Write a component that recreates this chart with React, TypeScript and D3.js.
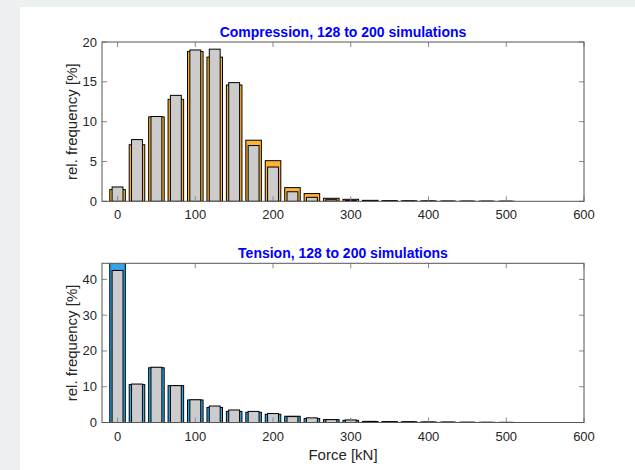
import React from "react";
import * as d3 from "d3";

// bin centers (kN)
const binCenters = [0, 25, 50, 75, 100, 125, 150, 175, 200, 225, 250, 275, 300, 325, 350, 375, 400, 425, 450, 475, 500];

// Compression: 128 sims (orange) and 200 sims (grey)
const comp128 = [1.47, 7.1, 10.6, 12.8, 18.8, 18.1, 14.6, 7.67, 5.1, 1.72, 0.97, 0.38, 0.25, 0.12, 0.08, 0.06, 0.05, 0.03, 0.02, 0.02, 0.01];
const comp200 = [1.8, 7.75, 10.65, 13.3, 19.0, 19.1, 14.9, 7.0, 4.3, 1.2, 0.5, 0.2, 0.1, 0.08, 0.05, 0.04, 0.03, 0.02, 0.02, 0.01, 0.01];

// Tension: 128 sims (blue) and 200 sims (grey)
const tens128 = [48, 10.6, 15.3, 10.3, 6.3, 4.2, 3.1, 2.85, 2.3, 1.75, 1.1, 0.8, 0.6, 0.3, 0.25, 0.2, 0.15, 0.1, 0.08, 0.05, 0.03];
const tens200 = [42.5, 10.75, 15.45, 10.3, 6.35, 4.6, 3.5, 3.1, 2.5, 1.65, 1.3, 0.8, 0.7, 0.3, 0.2, 0.2, 0.1, 0.1, 0.05, 0.05, 0.03];

const xTicks = [0, 100, 200, 300, 400, 500, 600];
const compYTicks = [0, 5, 10, 15, 20];
const tensYTicks = [0, 10, 20, 30, 40];

const titles = ["Compression, 128 to 200 simulations", "Tension, 128 to 200 simulations"];
const yLabel = "rel. frequency [%]";
const xLabel = "Force [kN]";

const ORANGE = "#FFB133";
const BLUE = "#2EA6EE";
const GREY = "#CCCCCC";
const AX = "#262626";
const FONT = "'Liberation Sans', Arial, Helvetica, sans-serif";

const AX_LEFT = 102;
const AX_RIGHT = 584;

type PanelProps = {
  top: number;
  bottom: number;
  yMax: number;
  yTicks: number[];
  back: number[];
  front: number[];
  backColor: string;
  title: string;
  showXLabel: boolean;
  id: string;
};

function Panel({ top, bottom, yMax, yTicks, back, front, backColor, title, showXLabel, id }: PanelProps) {
  const x = d3.scaleLinear().domain([-20, 600]).range([AX_LEFT, AX_RIGHT]);
  const y = d3.scaleLinear().domain([0, yMax]).range([bottom, top]);
  const backW = x(20) - x(0);
  const frontW = x(14) - x(0);
  const tickLen = 5;
  const midX = (AX_LEFT + AX_RIGHT) / 2;
  const midY = (top + bottom) / 2;
  return (
    <g>
      <rect x={AX_LEFT} y={top} width={AX_RIGHT - AX_LEFT} height={bottom - top} fill="#fff" />
      <defs>
        <clipPath id={id}>
          <rect x={AX_LEFT} y={top} width={AX_RIGHT - AX_LEFT} height={bottom - top} />
        </clipPath>
      </defs>
      <g clipPath={`url(#${id})`}>
        {binCenters.map((c, i) => (
          <rect
            key={"b" + i}
            x={x(c) - backW / 2}
            y={y(back[i])}
            width={backW}
            height={y(0) - y(back[i])}
            fill={backColor}
            stroke="#000"
            strokeWidth={1}
          />
        ))}
        {binCenters.map((c, i) => (
          <rect
            key={"f" + i}
            x={x(c) - frontW / 2}
            y={y(front[i])}
            width={frontW}
            height={y(0) - y(front[i])}
            fill={GREY}
            stroke="#000"
            strokeWidth={1}
          />
        ))}
      </g>
      {/* ticks */}
      {xTicks.map((t) => (
        <g key={"xt" + t}>
          <line x1={x(t)} x2={x(t)} y1={bottom} y2={bottom - tickLen} stroke="#8a8a8a" strokeWidth={1} />
          <line x1={x(t)} x2={x(t)} y1={top} y2={top + tickLen} stroke="#8a8a8a" strokeWidth={1} />
          <text x={x(t)} y={bottom + 18} textAnchor="middle" fontFamily={FONT} fontSize={13} fill={AX}>
            {t}
          </text>
        </g>
      ))}
      {yTicks.map((t) => (
        <g key={"yt" + t}>
          <line x1={AX_LEFT} x2={AX_LEFT + tickLen} y1={y(t)} y2={y(t)} stroke="#8a8a8a" strokeWidth={1} />
          <line x1={AX_RIGHT} x2={AX_RIGHT - tickLen} y1={y(t)} y2={y(t)} stroke="#8a8a8a" strokeWidth={1} />
          <text x={AX_LEFT - 5} y={y(t)} dy="0.35em" textAnchor="end" fontFamily={FONT} fontSize={13} fill={AX}>
            {t}
          </text>
        </g>
      ))}
      <rect x={AX_LEFT} y={top} width={AX_RIGHT - AX_LEFT} height={bottom - top} fill="none" stroke="#555" strokeWidth={1} />
      <text x={midX} y={top - 5} textAnchor="middle" fontFamily={FONT} fontSize={14} fontWeight="bold" fill="#0000FF">
        {title}
      </text>
      <text
        transform={`translate(${77},${midY}) rotate(-90)`}
        textAnchor="middle"
        fontFamily={FONT}
        fontSize={15}
        fill={AX}
      >
        {yLabel}
      </text>
      {showXLabel && (
        <text x={midX} y={bottom + 37} textAnchor="middle" fontFamily={FONT} fontSize={15} fill={AX}>
          {xLabel}
        </text>
      )}
    </g>
  );
}

export default function App() {
  return (
    <svg
      width={635}
      height={470}
      style={{ position: "absolute", left: 0, top: 0, display: "block" }}
    >
      <rect x={0} y={0} width={635} height={470} fill="#EDF0F1" />
      <rect x={20} y={7} width={615} height={463} fill="#FFFFFF" />
      <Panel
        top={42}
        bottom={201.3}
        yMax={20}
        yTicks={compYTicks}
        back={comp128}
        front={comp200}
        backColor={ORANGE}
        title={titles[0]}
        showXLabel={false}
        id="clipTop"
      />
      <Panel
        top={263.3}
        bottom={422.5}
        yMax={44.5}
        yTicks={tensYTicks}
        back={tens128}
        front={tens200}
        backColor={BLUE}
        title={titles[1]}
        showXLabel={true}
        id="clipBottom"
      />
    </svg>
  );
}
